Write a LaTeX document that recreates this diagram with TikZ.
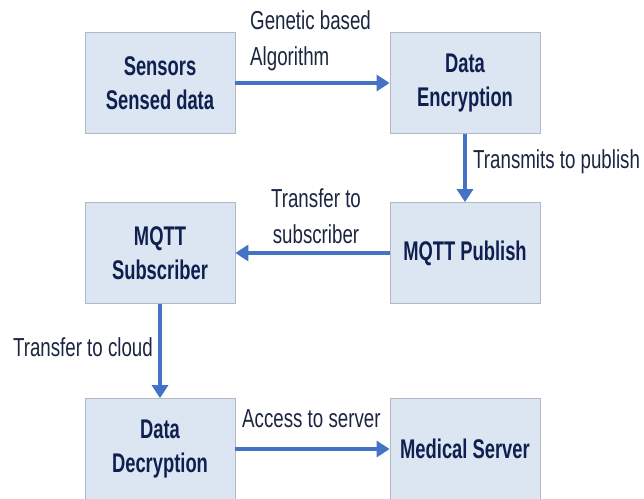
\documentclass[tikz,border=0pt]{standalone}
\usepackage{fontspec}
\setmainfont{Liberation Sans}[FakeStretch=0.72]
\newfontfamily\boxfont{Liberation Sans}[FakeStretch=0.68]
\usetikzlibrary{arrows.meta}
\definecolor{boxfill}{HTML}{DCE6F2}
\definecolor{boxline}{HTML}{B0B8C4}
\definecolor{arrowblue}{HTML}{4472C4}
\definecolor{navy}{HTML}{0F2050}
\definecolor{labeltext}{HTML}{1A2540}
\begin{document}
\begin{tikzpicture}[x=1pt,y=-1pt,
  procbox/.style={draw=boxline,line width=0.8pt,fill=boxfill,minimum width=150pt,minimum height=101pt,
    inner sep=0pt,align=center,text=navy,font=\boxfont\fontsize{27}{34}\selectfont\bfseries},
  flow/.style={draw=arrowblue,line width=4.5pt,-{Triangle[length=13pt,width=16pt]}},
  lbl/.style={text=labeltext,font=\fontsize{26}{36}\selectfont,inner sep=0pt}]
\useasboundingbox (0,0) rectangle (644,498);
\begin{scope}
\clip (0,0) rectangle (644,498);
\node[procbox] (sens) at (160,83) {Sensors\\Sensed data};
\node[procbox] (enc) at (465,83) {Data\\Encryption};
\node[procbox] (sub) at (160,253) {MQTT\\Subscriber};
\node[procbox] (pub) at (465,253) {MQTT Publish};
\node[procbox] (dec) at (160,449) {Data\\Decryption};
\node[procbox] (med) at (465,449) {Medical Server};
\end{scope}
\draw[flow] (sens.east) -- (enc.west);
\draw[flow] (enc.south) -- (pub.north);
\draw[flow] (pub.west) -- (sub.east);
\draw[flow] (sub.south) -- (dec.north);
\draw[flow] (dec.east) -- (med.west);
\node[lbl,align=left,anchor=west] (l1) at (250,41) {Genetic based\\Algorithm};
\node[lbl,anchor=west] (l2) at (473,162) {Transmits to publish};
\node[lbl,align=center] (l3) at (316,216) {Transfer to\\subscriber};
\node[lbl,anchor=east] (l4) at (153,347) {Transfer to cloud};
\node[lbl,anchor=west] (l5) at (242,419) {Access to server};
\end{tikzpicture}
\end{document}
